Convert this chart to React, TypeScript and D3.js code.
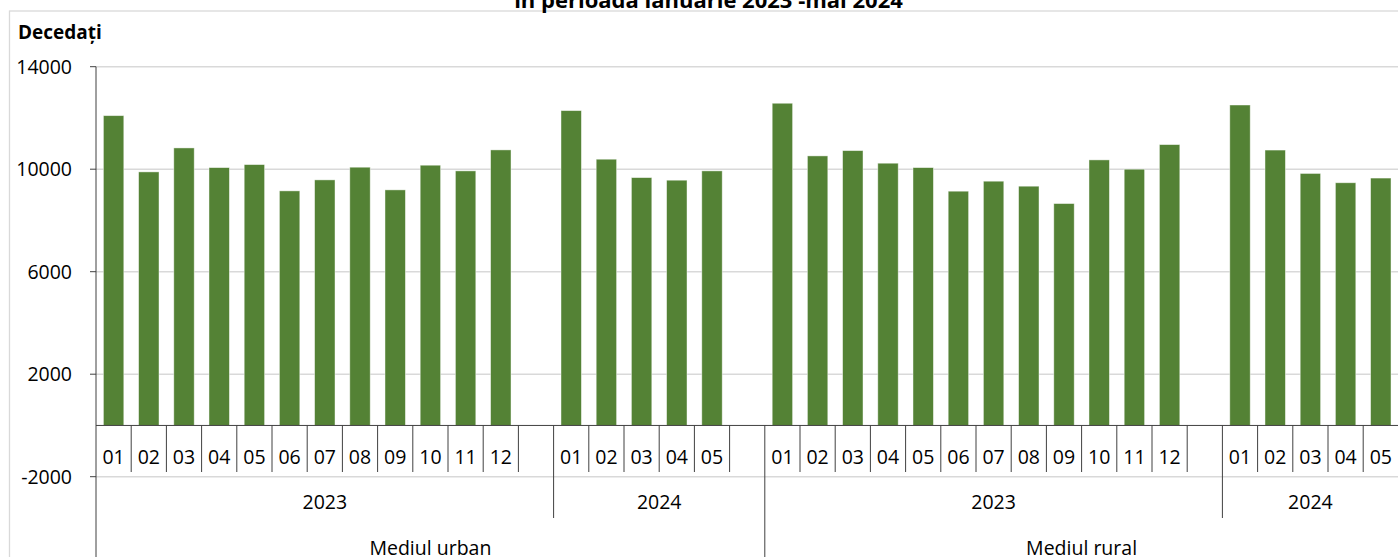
import React from "react";
import * as d3 from "d3";

const title = "în perioada ianuarie 2023 -mai 2024";
const yAxisTitle = "Decedați";
const groupNames = ["Mediul urban", "Mediul rural"];
const yearLabels = ["2023", "2024"];
const months2023 = ["01", "02", "03", "04", "05", "06", "07", "08", "09", "10", "11", "12"];
const months2024 = ["01", "02", "03", "04", "05"];
const urban2023 = [12090, 9895, 10830, 10062, 10180, 9154, 9583, 10078, 9193, 10156, 9934, 10753];
const urban2024 = [12286, 10390, 9672, 9571, 9934];
const rural2023 = [12574, 10519, 10725, 10234, 10062, 9142, 9532, 9337, 8659, 10363, 10000, 10960];
const rural2024 = [12505, 10747, 9834, 9471, 9654];
const yTicks = [-2000, 2000, 6000, 10000, 14000];

type Slot = { label: string; value: number | null };
type Year = { year: string; slots: Slot[] };
type Group = { name: string; years: Year[] };

const mk = (months: string[], vals: number[], pad: boolean): Slot[] => {
  const s: Slot[] = months.map((m, i) => ({ label: m, value: vals[i] }));
  if (pad) s.push({ label: "", value: null });
  return s;
};

const groups: Group[] = [
  {
    name: groupNames[0],
    years: [
      { year: yearLabels[0], slots: mk(months2023, urban2023, true) },
      { year: yearLabels[1], slots: mk(months2024, urban2024, true) },
    ],
  },
  {
    name: groupNames[1],
    years: [
      { year: yearLabels[0], slots: mk(months2023, rural2023, true) },
      { year: yearLabels[1], slots: mk(months2024, rural2024, false) },
    ],
  },
];

const FONT = "'Open Sans', Lato, sans-serif";
const W = 1398;
const H = 557;
const left = 96;
const slotW = 35.2;
const LABEL_SIZE = 19.5;

export default function App() {
  const flat: { slot: Slot; idx: number }[] = [];
  let idx = 0;
  groups.forEach((g) =>
    g.years.forEach((yr) =>
      yr.slots.forEach((s) => {
        flat.push({ slot: s, idx });
        idx++;
      })
    )
  );
  const n = flat.length;
  const x = d3
    .scaleBand<number>()
    .domain(d3.range(n))
    .range([left, left + n * slotW])
    .padding(0);
  const y = d3.scaleLinear().domain([-2000, 14000]).range([476.7, 66.7]);
  const y0 = y(0);
  const bw = x.bandwidth() * 0.58;

  const monthTickBottom = 472;
  const yearTickBottom = 518;
  const groupTickBottom = H + 10;

  const monthBounds: number[] = [];
  const yearBounds: number[] = [];
  const groupBounds: number[] = [];
  const yearCenters: { x: number; label: string }[] = [];
  const groupCenters: { x: number; label: string }[] = [];
  let k = 0;
  groups.forEach((g, gi) => {
    const gStart = k;
    g.years.forEach((yr, yi) => {
      const yStart = k;
      yr.slots.forEach((s, si) => {
        if (si > 0) monthBounds.push(x(k)!);
        k++;
      });
      const yEnd = k;
      yearCenters.push({ x: x(yStart)! + ((yEnd - yStart) * slotW) / 2, label: yr.year });
      if (yi < g.years.length - 1) yearBounds.push(x(yEnd)!);
    });
    const gEnd = k;
    groupCenters.push({ x: x(gStart)! + ((gEnd - gStart) * slotW) / 2, label: g.name });
    if (gi < groups.length - 1) groupBounds.push(x(gEnd)!);
  });
  const rightEdge = left + n * slotW;

  return (
    <svg
      width={W}
      height={H}
      style={{ position: "absolute", left: 0, top: 0, background: "#fff" }}
      fontFamily={FONT}
    >
      <rect x={9.5} y={11} width={W + 20} height={H + 20} fill="#fff" stroke="#d9d9d9" strokeWidth={1.3} />
      <text x={708.5} y={8} textAnchor="middle" fontWeight="bold" fontSize={22} fill="#000">
        {title}
      </text>
      <text x={18} y={39} fontWeight="bold" fontSize={19} fill="#000">
        {yAxisTitle}
      </text>
      {yTicks.map((t) => (
        <line key={t} x1={left} x2={rightEdge} y1={y(t)} y2={y(t)} stroke="#d9d9d9" strokeWidth={1.4} />
      ))}
      {yTicks.map((t) => (
        <g key={"yl" + t}>
          <line x1={90} x2={left} y1={y(t)} y2={y(t)} stroke="#404040" strokeWidth={1} />
          <text x={72} y={y(t) + 7} textAnchor="end" fontSize={LABEL_SIZE} fill="#000">
            {t}
          </text>
        </g>
      ))}
      {flat
        .filter((f) => f.slot.value !== null)
        .map((f) => {
          const v = f.slot.value as number;
          const cx = x(f.idx)! + slotW / 2;
          return (
            <rect
              key={"b" + f.idx}
              x={cx - bw / 2}
              y={y(v)}
              width={bw}
              height={y0 - y(v)}
              fill="#548235"
              stroke="#ffffff"
              strokeOpacity={0.55}
              strokeWidth={0.8}
            />
          );
        })}
      <line x1={left} x2={rightEdge} y1={y0} y2={y0} stroke="#404040" strokeWidth={1} />
      <line x1={left} x2={left} y1={y(14000)} y2={groupTickBottom} stroke="#404040" strokeWidth={1} />
      {monthBounds.map((b, i) => (
        <line key={"mb" + i} x1={b} x2={b} y1={y0} y2={monthTickBottom} stroke="#404040" strokeWidth={1} />
      ))}
      {yearBounds.map((b, i) => (
        <line key={"yb" + i} x1={b} x2={b} y1={y0} y2={yearTickBottom} stroke="#404040" strokeWidth={1} />
      ))}
      {groupBounds.map((b, i) => (
        <line key={"gb" + i} x1={b} x2={b} y1={y0} y2={groupTickBottom} stroke="#404040" strokeWidth={1} />
      ))}
      {flat.map((f) =>
        f.slot.label ? (
          <text
            key={"ml" + f.idx}
            x={x(f.idx)! + slotW / 2}
            y={464}
            textAnchor="middle"
            fontSize={LABEL_SIZE}
            fill="#000"
          >
            {f.slot.label}
          </text>
        ) : null
      )}
      {yearCenters.map((c, i) => (
        <text key={"yc" + i} x={c.x} y={509} textAnchor="middle" fontSize={LABEL_SIZE} fill="#000">
          {c.label}
        </text>
      ))}
      {groupCenters.map((c, i) => (
        <text key={"gc" + i} x={c.x} y={555} textAnchor="middle" fontSize={LABEL_SIZE} fill="#000">
          {c.label}
        </text>
      ))}
    </svg>
  );
}
